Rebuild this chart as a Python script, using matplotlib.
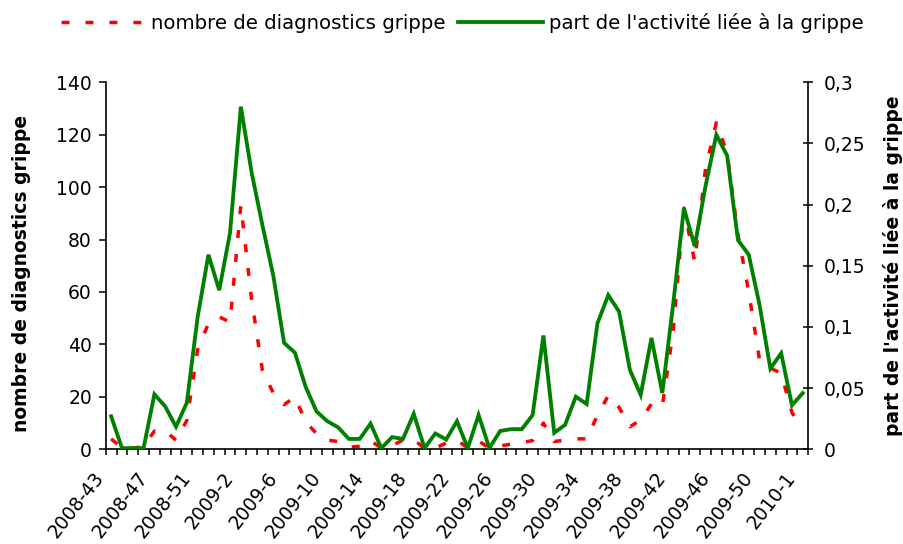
import matplotlib
matplotlib.use("Agg")
import matplotlib.pyplot as plt
import matplotlib.transforms as mtransforms
from matplotlib.ticker import FuncFormatter, MultipleLocator
import numpy as np

weeks = [
    "2008-43", "2008-44", "2008-45", "2008-46", "2008-47", "2008-48", "2008-49", "2008-50",
    "2008-51", "2008-52", "2008-53",
    "2009-1", "2009-2", "2009-3", "2009-4", "2009-5", "2009-6", "2009-7", "2009-8", "2009-9",
    "2009-10", "2009-11", "2009-12", "2009-13", "2009-14", "2009-15", "2009-16", "2009-17",
    "2009-18", "2009-19", "2009-20", "2009-21", "2009-22", "2009-23", "2009-24", "2009-25",
    "2009-26", "2009-27", "2009-28", "2009-29", "2009-30", "2009-31", "2009-32", "2009-33",
    "2009-34", "2009-35", "2009-36", "2009-37", "2009-38", "2009-39", "2009-40", "2009-41",
    "2009-42", "2009-43", "2009-44", "2009-45", "2009-46", "2009-47", "2009-48", "2009-49",
    "2009-50", "2009-51", "2009-52", "2009-53",
    "2010-1",
]

diagnostics = [
    4, 0.5, 0.5, 1, 7, 7, 3.5, 11, 38, 48, 50.5,
    48.5, 93, 57, 30, 21.5, 17, 20, 10.5, 6, 3.5, 3,
    0.8, 1.2, 3.3, 0.5, 1.5, 3.5, 3.8, 0.3, 0.4, 2.5,
    3.5, 0.5, 3.2, 0.5, 1.3, 2, 2.5, 3.4, 10, 3,
    3.5, 4, 4, 13, 20.5, 16, 8.6, 11.2, 17.3, 16.3,
    45, 92, 71.5, 107, 124.5, 113, 82, 60, 34, 31,
    29, 14, 8,
]

part_activite = [
    0.027, 0.001, 0.001, 0.001, 0.045, 0.035, 0.0185, 0.038, 0.108, 0.159, 0.130,
    0.177, 0.280, 0.226, 0.183, 0.142, 0.087, 0.079, 0.051, 0.031, 0.023, 0.018,
    0.0085, 0.0085, 0.021, 0.001, 0.010, 0.0085, 0.029, 0.001, 0.013, 0.008,
    0.023, 0.001, 0.028, 0.001, 0.015, 0.0165, 0.0165, 0.028, 0.093, 0.0135,
    0.020, 0.043, 0.037, 0.103, 0.126, 0.1125, 0.065, 0.0445, 0.091, 0.046,
    0.118, 0.197, 0.166, 0.215, 0.257, 0.240, 0.171, 0.159, 0.118, 0.066,
    0.0785, 0.036, 0.046,
]

label_red = "nombre de diagnostics grippe"
label_green = "part de l'activité liée à la grippe"

plt.rcParams["font.family"] = ["DejaVu Sans"]
FS = 13.5

fig = plt.figure(figsize=(9.04, 5.44), dpi=100)
ax = fig.add_axes([0.117, 0.174, 0.777, 0.675])
ax2 = ax.twinx()

x = np.arange(len(weeks))
l1, = ax.plot(x, diagnostics, color="#ff0000", lw=2.5, linestyle=(0, (2.3, 4.6)),
              label=label_red)
l2, = ax2.plot(x, part_activite, color="#008000", lw=2.75, label=label_green,
               solid_joinstyle="miter")

ax.set_xlim(-0.5, len(weeks) - 0.5)
ax.set_ylim(0, 140)
ax2.set_ylim(0, 0.3)
ax.yaxis.set_major_locator(MultipleLocator(20))
ax2.yaxis.set_major_locator(MultipleLocator(0.05))

def comma_fmt(v, pos):
    s = ("%.2f" % v).rstrip("0").rstrip(".")
    return s.replace(".", ",")

ax2.yaxis.set_major_formatter(FuncFormatter(comma_fmt))

major_idx = list(range(0, len(weeks), 4))
ax.set_xticks(major_idx)
ax.set_xticklabels([weeks[i] for i in major_idx], rotation=52, ha="right", va="top",
                   fontsize=13.5)
ax.set_xticks(np.arange(-0.5, len(weeks), 1), minor=True)
ax.tick_params(axis="x", which="major", length=0, pad=14)
ax.tick_params(axis="x", which="minor", length=4.5, width=1.1, direction="out", color="black")
offset = mtransforms.ScaledTranslation(-0.03, 0, fig.dpi_scale_trans)
for lab in ax.get_xticklabels():
    lab.set_transform(lab.get_transform() + offset)

ax.tick_params(axis="y", which="major", length=5, width=1.1, direction="out",
               labelsize=FS, pad=5)
ax2.tick_params(axis="y", which="major", length=7, width=1.1, direction="inout",
                labelsize=FS, pad=8)

for s in ["top", "right"]:
    ax.spines[s].set_visible(False)
for s in ["top", "left", "bottom"]:
    ax2.spines[s].set_visible(False)
for sp in [ax.spines["left"], ax.spines["bottom"], ax2.spines["right"]]:
    sp.set_linewidth(1.2)
    sp.set_color("black")

ax.set_ylabel(label_red, fontsize=FS, fontweight="bold")
ax.yaxis.set_label_coords(-0.107, 0.48)
ax2.set_ylabel(label_green, fontsize=FS, fontweight="bold", rotation=90)
ax2.yaxis.set_label_coords(1.107, 0.5)

fig.legend([l1, l2], [label_red, label_green], loc="center", bbox_to_anchor=(0.511, 0.958),
           ncol=2, frameon=False, handlelength=4.3, handletextpad=0.3, columnspacing=0.6,
           fontsize=14.2)

fig.savefig("out.png", dpi=100)
